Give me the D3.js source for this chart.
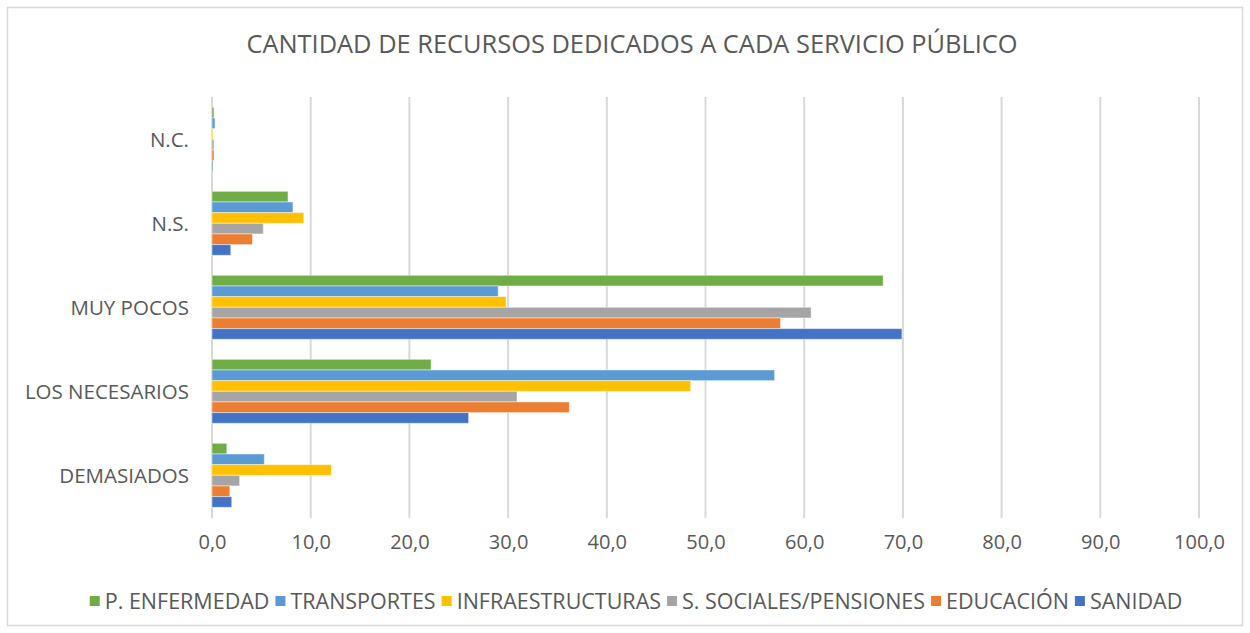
<!DOCTYPE html>
<html>
<head>
<meta charset="utf-8">
<script src="https://cdn.jsdelivr.net/npm/d3@7"></script>
<style>
  body { margin: 0; background: #fff; }
  text { font-family: "Open Sans", "Noto Sans", sans-serif; fill: #595959; }
</style>
</head>
<body>
<div id="chart"></div>
<script>
// Chart data (values in %)
const categories = ["N.C.", "N.S.", "MUY POCOS", "LOS NECESARIOS", "DEMASIADOS"];
const seriesNames = ["P. ENFERMEDAD", "TRANSPORTES", "INFRAESTRUCTURAS", "S. SOCIALES/PENSIONES", "EDUCACIÓN", "SANIDAD"];
const seriesColors = ["#70AD47", "#5B9BD5", "#FFC000", "#A5A5A5", "#ED7D31", "#4472C4"];

// one array per series, same order as categories
const pEnfermedad     = [0.2, 7.7, 68.0, 22.2, 1.5];
const transportes     = [0.3, 8.2, 29.0, 57.0, 5.3];
const infraestructuras = [0.1, 9.3, 29.8, 48.5, 12.1];
const sSociales       = [0.2, 5.2, 60.7, 30.9, 2.8];
const educacion       = [0.2, 4.1, 57.6, 36.2, 1.8];
const sanidad         = [0.1, 1.9, 69.9, 26.0, 2.0];
const seriesValues = [pEnfermedad, transportes, infraestructuras, sSociales, educacion, sanidad];

const xTicks = d3.range(0, 101, 10);

const width = 1250;
const height = 633;

const svg = d3.select("#chart").append("svg")
    .attr("width", width)
    .attr("height", height);

svg.append("rect")
    .attr("x", 7.5).attr("y", 7.5)
    .attr("width", width - 15).attr("height", height - 15)
    .attr("fill", "#fff")
    .attr("stroke", "#D9D9D9")
    .attr("stroke-width", 1.5);

const x = d3.scaleLinear().domain([0, 100]).range([212, 1199]);
const y = d3.scaleBand().domain(categories).range([97.3, 517.3]);
const ySeries = d3.scaleBand().domain(seriesNames)
    .range([0, y.bandwidth()])
    .paddingInner(0)
    .paddingOuter(0.94);

// gridlines
svg.append("g")
    .selectAll("line")
    .data(xTicks)
    .join("line")
    .attr("x1", d => x(d)).attr("x2", d => x(d))
    .attr("y1", 97).attr("y2", 518)
    .attr("stroke", "#D9D9D9")
    .attr("stroke-width", 2);

// bars
const rows = [];
categories.forEach((c, ci) => {
    seriesNames.forEach((s, si) => {
        rows.push({ cat: c, series: s, value: seriesValues[si][ci], color: seriesColors[si] });
    });
});

svg.append("g")
    .selectAll("rect")
    .data(rows)
    .join("rect")
    .attr("x", x(0))
    .attr("y", d => y(d.cat) + ySeries(d.series))
    .attr("width", d => x(d.value) - x(0))
    .attr("height", ySeries.bandwidth())
    .attr("fill", d => d.color)
    .attr("stroke", "#fff")
    .attr("stroke-opacity", 0.45)
    .attr("stroke-width", 1);

// x axis labels
const xAxis = d3.axisBottom(x)
    .tickValues(xTicks)
    .tickSize(0)
    .tickPadding(0)
    .tickFormat(d => d3.format(".1f")(d).replace(".", ","));

svg.append("g")
    .attr("transform", "translate(0,535)")
    .call(xAxis)
    .call(g => g.select(".domain").remove())
    .selectAll("text")
    .attr("font-size", 20)
    .attr("fill", "#595959")
    .attr("font-family", "'Open Sans', sans-serif");

// category labels
const yAxis = d3.axisLeft(y).tickSize(0).tickPadding(0);
svg.append("g")
    .attr("transform", "translate(189,1)")
    .call(yAxis)
    .call(g => g.select(".domain").remove())
    .selectAll("text")
    .attr("font-size", 20.5)
    .attr("fill", "#595959")
    .attr("font-family", "'Open Sans', sans-serif");

// title
svg.append("text")
    .attr("x", 632)
    .attr("y", 53)
    .attr("text-anchor", "middle")
    .attr("font-size", 25.4)
    .text("CANTIDAD DE RECURSOS DEDICADOS A CADA SERVICIO PÚBLICO");

// legend
const legend = svg.append("g");
let cursor = 0;
seriesNames.forEach((s, i) => {
    const g = legend.append("g");
    g.append("rect")
        .attr("width", 10).attr("height", 10)
        .attr("y", -13)
        .attr("fill", seriesColors[i]);
    const t = g.append("text")
        .attr("x", 15)
        .attr("font-size", 21.5)
        .text(s);
    const w = 15 + t.node().getComputedTextLength();
    g.attr("transform", `translate(${cursor},0)`);
    cursor += w + 6;
});
const legendWidth = cursor - 6;
legend.attr("transform", `translate(${636 - legendWidth / 2},609)`);
</script>
</body>
</html>
